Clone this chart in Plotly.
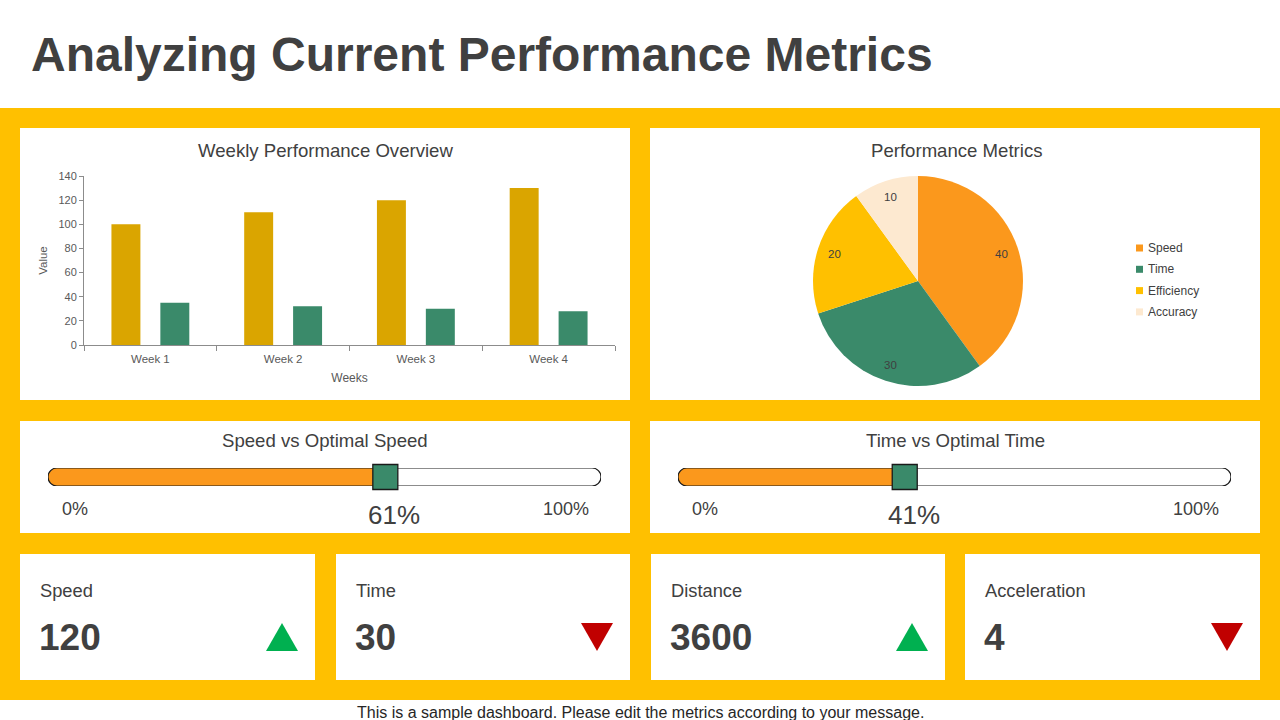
import math
import plotly.graph_objects as go

# ---------------- data ----------------
weeks = ["Week 1", "Week 2", "Week 3", "Week 4"]
speed_values = [100, 110, 120, 130]
time_values = [35, 32, 30, 28]
y_ticks = [0, 20, 40, 60, 80, 100, 120, 140]

pie_labels = ["Speed", "Time", "Efficiency", "Accuracy"]
pie_values = [40, 30, 20, 10]

gauge_titles = ["Speed vs Optimal Speed", "Time vs Optimal Time"]
gauge_values = [61, 41]
gauge_min_label = "0%"
gauge_max_label = "100%"

kpi_labels = ["Speed", "Time", "Distance", "Acceleration"]
kpi_values = ["120", "30", "3600", "4"]
kpi_trends = ["up", "down", "up", "down"]

main_title = "Analyzing Current Performance Metrics"
bar_title = "Weekly Performance Overview"
pie_title = "Performance Metrics"
footer = "This is a sample dashboard. Please edit the metrics according to your message."

# ---------------- style ----------------
W, H = 1280, 720
FONT = "Liberation Sans, Arial, sans-serif"
TXT = "#404040"
TICK = "#595959"
YELLOW = "#FFC000"
GOLD = "#DAA500"
GREEN = "#3A8A6A"
ORANGE = "#FB981C"
CREAM = "#FDE9D0"
UP = "#00B050"
DOWN = "#C00000"
PIE_COLORS = [ORANGE, GREEN, YELLOW, CREAM]


def px(x):
    return x / W


def py(y):
    return 1 - y / H


fig = go.Figure()
shapes = []
annotations = []

# background band and panels (decoration)
shapes.append(dict(type="rect", xref="paper", yref="paper", x0=0, x1=1, y0=py(700), y1=py(108),
                   fillcolor=YELLOW, line=dict(width=0), layer="below"))
panels = [(20, 128, 630, 400), (650, 128, 1260, 400),
          (20, 421, 630, 533), (650, 421, 1260, 533),
          (20, 554, 315, 680), (336, 554, 630, 680), (651, 554, 945, 680), (965, 554, 1260, 680)]
for x0, y0, x1, y1 in panels:
    shapes.append(dict(type="rect", xref="paper", yref="paper", x0=px(x0), x1=px(x1), y0=py(y1), y1=py(y0),
                       fillcolor="white", line=dict(width=0), layer="below"))

# title & footer
annotations.append(dict(text=f"<b>{main_title}</b>", x=px(29), y=py(55), xref="paper", yref="paper",
                        xanchor="left", yanchor="middle", showarrow=False, font=dict(size=48, color=TXT)))
annotations.append(dict(text=footer, x=0.5, y=py(712), xref="paper", yref="paper", xanchor="center",
                        yanchor="middle", showarrow=False, font=dict(size=16, color="#262626")))

# ---------------- bar chart ----------------
fig.add_trace(go.Bar(x=weeks, y=speed_values, name="Speed", marker=dict(color=GOLD, line=dict(width=0)),
                     showlegend=False, xaxis="x", yaxis="y"))
fig.add_trace(go.Bar(x=weeks, y=time_values, name="Time", marker=dict(color=GREEN, line=dict(width=0)),
                     showlegend=False, xaxis="x", yaxis="y"))
annotations.append(dict(text=bar_title, x=px(325), y=py(150), xref="paper", yref="paper",
                        xanchor="center", yanchor="middle", showarrow=False, font=dict(size=18.6, color=TXT)))

# ---------------- pie chart ----------------
PIE_CX, PIE_CY, PIE_R = 918, 281, 105
fig.add_trace(go.Pie(labels=pie_labels, values=pie_values, sort=False, direction="clockwise", rotation=0,
                     marker=dict(colors=PIE_COLORS, line=dict(width=0)),
                     textinfo="none", hoverinfo="label+value",
                     domain=dict(x=[px(PIE_CX - PIE_R), px(PIE_CX + PIE_R)],
                                 y=[py(PIE_CY + PIE_R), py(PIE_CY - PIE_R)]),
                     showlegend=False))
# value labels near the outer part of each slice
total = sum(pie_values)
cum = 0
for lab, v in zip(pie_labels, pie_values):
    mid = (cum + v / 2) / total * 2 * math.pi
    cum += v
    lx = PIE_CX + 0.84 * PIE_R * math.sin(mid)
    ly = PIE_CY - 0.84 * PIE_R * math.cos(mid)
    annotations.append(dict(text=str(v), x=px(lx), y=py(ly), xref="paper", yref="paper",
                            xanchor="center", yanchor="middle", showarrow=False,
                            font=dict(size=11.5, color=TXT)))
# legend (small squares + labels)
for i, (lab, col) in enumerate(zip(pie_labels, PIE_COLORS)):
    ly = 248 + i * 21.3
    shapes.append(dict(type="rect", xref="paper", yref="paper", x0=px(1136), x1=px(1143),
                       y0=py(ly + 3.5), y1=py(ly - 3.5), fillcolor=col, line=dict(width=0), layer="above"))
    annotations.append(dict(text=lab, x=px(1146), y=py(ly), xref="paper", yref="paper",
                            xanchor="left", yanchor="middle", showarrow=False,
                            font=dict(size=12, color=TXT)))
annotations.append(dict(text=pie_title, x=px(957), y=py(150), xref="paper", yref="paper",
                        xanchor="center", yanchor="middle", showarrow=False, font=dict(size=18.6, color=TXT)))

# ---------------- gauges ----------------
track_px = [(48, 601), (678, 1231)]
title_cx = [325, 955]
RAD = 9  # px radius of track ends
K = 0.5523
for i, (title, val) in enumerate(zip(gauge_titles, gauge_values)):
    ax = i + 2
    xa, ya = f"x{ax}", f"y{ax}"
    tx0, tx1 = track_px[i]
    rx = RAD * 100 / (tx1 - tx0)
    fill_path = (f"M {rx},0 L {val},0 L {val},1 L {rx},1 "
                 f"C {rx - K * rx},1 0,{0.5 + K * 0.5} 0,0.5 "
                 f"C 0,{0.5 - K * 0.5} {rx - K * rx},0 {rx},0 Z")
    shapes.append(dict(type="path", xref=xa, yref=ya, path=fill_path, fillcolor=ORANGE,
                       line=dict(width=0), layer="below"))
    track_path = (f"M {rx},0 L {100 - rx},0 "
                  f"C {100 - rx + K * rx},0 100,{0.5 - K * 0.5} 100,0.5 "
                  f"C 100,{0.5 + K * 0.5} {100 - rx + K * rx},1 {100 - rx},1 "
                  f"L {rx},1 C {rx - K * rx},1 0,{0.5 + K * 0.5} 0,0.5 "
                  f"C 0,{0.5 - K * 0.5} {rx - K * rx},0 {rx},0 Z")
    shapes.append(dict(type="path", xref=xa, yref=ya, path=track_path, fillcolor="rgba(0,0,0,0)",
                       line=dict(width=1.2, color="#1a1a1a"), layer="below"))
    fig.add_trace(go.Scatter(x=[val], y=[0.5], mode="markers", xaxis=xa, yaxis=ya, showlegend=False,
                             cliponaxis=False, hoverinfo="skip",
                             marker=dict(symbol="square", size=25, color=GREEN,
                                         line=dict(color="#1a1a1a", width=1.3))))
    annotations.append(dict(text=title, x=px(title_cx[i]), y=py(440), xref="paper", yref="paper",
                            xanchor="center", yanchor="middle", showarrow=False, font=dict(size=18.6, color=TXT)))
    annotations.append(dict(text=f"{val}%", x=val, xref=xa, y=py(515), yref="paper", xshift=9,
                            xanchor="center", yanchor="middle", showarrow=False, font=dict(size=26, color=TXT)))
    annotations.append(dict(text=gauge_min_label, x=0, xref=xa, y=py(509), yref="paper", xshift=12,
                            xanchor="left", yanchor="middle", showarrow=False, font=dict(size=18, color=TXT)))
    annotations.append(dict(text=gauge_max_label, x=100, xref=xa, y=py(509), yref="paper", xshift=-10,
                            xanchor="right", yanchor="middle", showarrow=False, font=dict(size=18, color=TXT)))

# ---------------- KPI cards ----------------
card_x = [(20, 315), (336, 630), (651, 945), (965, 1260)]
for (cx0, cx1), lab, v, tr in zip(card_x, kpi_labels, kpi_values, kpi_trends):
    annotations.append(dict(text=lab, x=px(cx0 + 18), y=py(590), xref="paper", yref="paper",
                            xanchor="left", yanchor="middle", showarrow=False, font=dict(size=18.3, color=TXT)))
    annotations.append(dict(text=f"<b>{v}</b>", x=px(cx0 + 17), y=py(637), xref="paper", yref="paper",
                            xanchor="left", yanchor="middle", showarrow=False, font=dict(size=37, color=TXT)))
    tcx, tcy, hw, hh = cx1 - 33, 637, 16, 14
    if tr == "up":
        pts = [(tcx - hw, tcy + hh), (tcx + hw, tcy + hh), (tcx, tcy - hh)]
        col = UP
    else:
        pts = [(tcx - hw, tcy - hh), (tcx + hw, tcy - hh), (tcx, tcy + hh)]
        col = DOWN
    path = "M " + " L ".join(f"{px(a)},{py(b)}" for a, b in pts) + " Z"
    shapes.append(dict(type="path", xref="paper", yref="paper", path=path, fillcolor=col,
                       line=dict(width=0), layer="above"))

axis_line = "#8C8C8C"
fig.update_layout(
    width=W, height=H, autosize=False,
    margin=dict(l=0, r=0, t=0, b=0, pad=0, autoexpand=False),
    paper_bgcolor="white", plot_bgcolor="rgba(0,0,0,0)",
    font=dict(family=FONT, color=TXT),
    barmode="group", bargap=0.263, bargroupgap=0.408,
    showlegend=False,
    xaxis=dict(domain=[px(84), px(615)], type="category", showline=True, linecolor=axis_line, linewidth=1,
               ticks="outside", tickson="boundaries", ticklen=5, tickcolor=axis_line, ticklabelstandoff=3,
               tickfont=dict(size=11.5, color=TICK), showgrid=False, zeroline=False, fixedrange=True,
               automargin=False,
               title=dict(text="Weeks", font=dict(size=12, color=TICK), standoff=9)),
    yaxis=dict(domain=[py(345), py(176)], range=[0, 140], tickvals=y_ticks, showline=True,
               linecolor=axis_line, linewidth=1, ticks="outside", ticklen=4, tickcolor=axis_line,
               tickfont=dict(size=11, color=TICK), showgrid=False, zeroline=False, fixedrange=True,
               automargin=False,
               title=dict(text="Value", font=dict(size=11.5, color=TICK), standoff=8)),
    xaxis2=dict(domain=[px(48), px(601)], range=[0, 100], visible=False, fixedrange=True, automargin=False),
    yaxis2=dict(domain=[py(486), py(468)], range=[0, 1], visible=False, fixedrange=True, automargin=False),
    xaxis3=dict(domain=[px(678), px(1231)], range=[0, 100], visible=False, fixedrange=True, automargin=False),
    yaxis3=dict(domain=[py(486), py(468)], range=[0, 1], visible=False, fixedrange=True, automargin=False),
    shapes=shapes, annotations=annotations,
)

fig.write_html("out.html")
